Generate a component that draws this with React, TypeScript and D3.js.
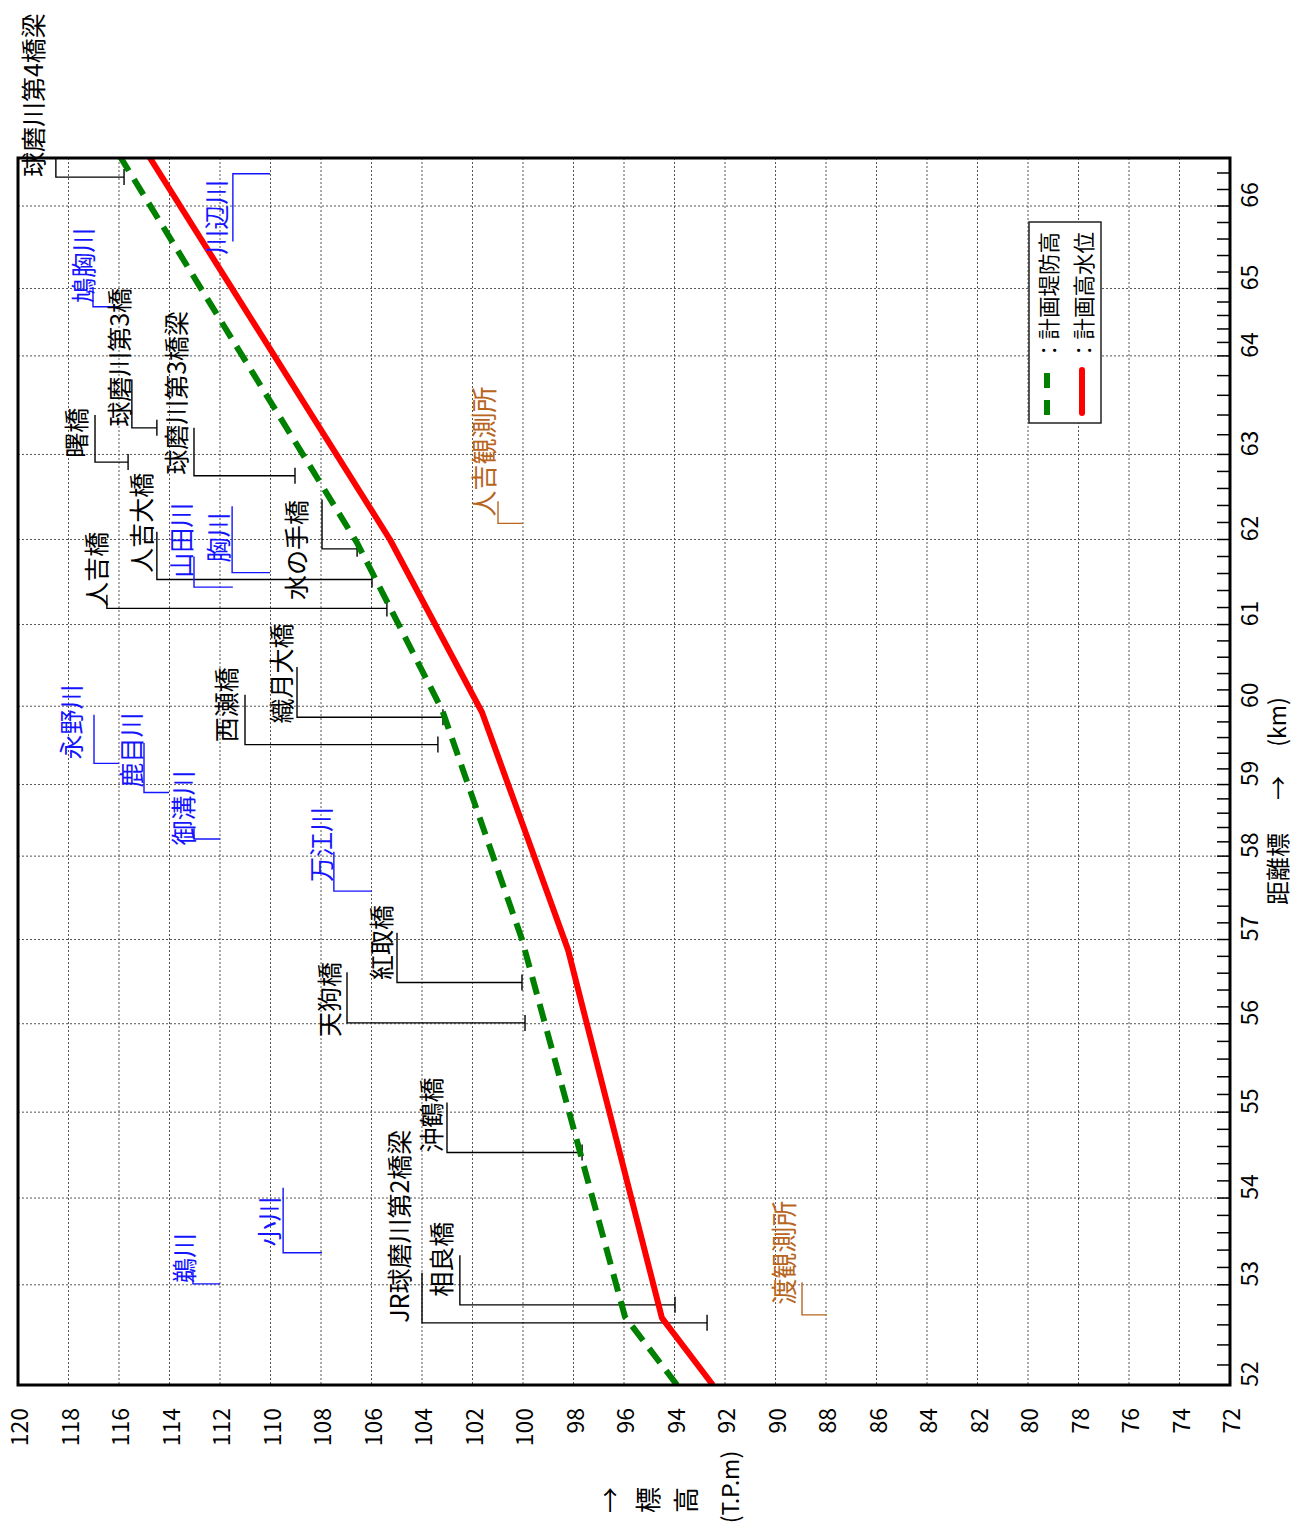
import React from 'react';
import * as d3 from 'd3';

// 距離標 (km post labels) and their distance along the river from the 52 km post
const kmLabels = [52, 53, 54, 55, 56, 57, 58, 59, 60, 61, 62, 63, 64, 65, 66];
const kmDist = [0, 1.19, 2.22, 3.24, 4.29, 5.29, 6.28, 7.13, 8.06, 9.03, 10.04, 11.05, 12.22, 13.02, 14.0];
const kmMinor = d3.range(52, 66.5, 0.2);
const kmTopDist = 14.57;

// 標高 ticks (T.P.m)
const elevTicks = [120, 118, 116, 114, 112, 110, 108, 106, 104, 102, 100, 98, 96, 94, 92, 90, 88, 86, 84, 82, 80, 78, 76, 74, 72];

// 計画堤防高
const levee = [
  { km: 52.0, elev: 93.9 },
  { km: 52.68, elev: 95.96 },
  { km: 57.0, elev: 100.04 },
  { km: 59.95, elev: 103.2 },
  { km: 61.96, elev: 106.57 },
  { km: 66.6, elev: 115.96 },
];

// 計画高水位
const hwl = [
  { km: 52.0, elev: 92.48 },
  { km: 52.67, elev: 94.5 },
  { km: 56.88, elev: 98.22 },
  { km: 59.92, elev: 101.62 },
  { km: 62.0, elev: 105.27 },
  { km: 66.6, elev: 114.81 },
];

// name, km of leader, km of other end of stem, stem elev, leader end elev, text start km, text elev
const bridges = [
  { name: '球磨川第4橋梁', km: 66.35, km2: 66.58, elev: 118.5, end: 115.8, tKm: 66.35, tElev: 119.45 },
  { name: '曙橋', km: 62.91, km2: 63.4, elev: 116.95, end: 115.64, tKm: 62.96, tElev: 117.74 },
  { name: '球磨川第3橋', km: 63.27, km2: 63.76, elev: 115.49, end: 114.5, tKm: 63.28, tElev: 116.04 },
  { name: '球磨川第3橋梁', km: 62.75, km2: 63.27, elev: 113.03, end: 109.03, tKm: 62.76, tElev: 113.78 },
  { name: '人吉大橋', km: 61.53, km2: 62.09, elev: 114.5, end: 105.98, tKm: 61.61, tElev: 115.17 },
  { name: '人吉橋', km: 61.19, km2: 61.35, elev: 116.48, end: 105.39, tKm: 61.21, tElev: 116.95 },
  { name: '水の手橋', km: 61.89, km2: 62.47, elev: 107.96, end: 106.57, tKm: 61.29, tElev: 109.03 },
  { name: '織月大橋', km: 59.86, km2: 60.48, elev: 108.95, end: 103.17, tKm: 59.78, tElev: 109.62 },
  { name: '西瀬橋', km: 59.51, km2: 60.14, elev: 111.01, end: 103.37, tKm: 59.54, tElev: 111.8 },
  { name: '紅取橋', km: 56.49, km2: 57.08, elev: 104.99, end: 100.04, tKm: 56.52, tElev: 105.66 },
  { name: '天狗橋', km: 56.01, km2: 56.61, elev: 106.97, end: 99.92, tKm: 55.85, tElev: 107.72 },
  { name: '沖鶴橋', km: 54.53, km2: 55.11, elev: 103.01, end: 97.66, tKm: 54.53, tElev: 103.68 },
  { name: '相良橋', km: 52.8, km2: 53.34, elev: 102.5, end: 93.98, tKm: 52.88, tElev: 103.29 },
  { name: 'JR球磨川第2橋梁', km: 52.62, km2: 53.14, elev: 104.0, end: 92.71, tKm: 52.62, tElev: 104.95 },
];

const tributaries = [
  { name: '川辺川', km: 66.39, km2: 65.57, elev: 111.49, end: 110.02, tKm: 65.41, tElev: 112.2 },
  { name: '鳩胸川', km: 64.73, km2: 65.01, elev: 117.03, end: 116.04, tKm: 64.79, tElev: 117.47 },
  { name: '山田川', km: 61.44, km2: 61.8, elev: 113.03, end: 111.49, tKm: 61.55, tElev: 113.58 },
  { name: '胸川', km: 61.61, km2: 62.39, elev: 111.52, end: 110.02, tKm: 61.73, tElev: 112.12 },
  { name: '永野川', km: 59.27, km2: 59.89, elev: 116.99, end: 116.0, tKm: 59.32, tElev: 117.94 },
  { name: '鹿目川', km: 58.89, km2: 59.53, elev: 115.01, end: 114.02, tKm: 58.96, tElev: 115.56 },
  { name: '御溝川', km: 58.24, km2: 58.39, elev: 113.03, end: 112.0, tKm: 58.15, tElev: 113.5 },
  { name: '万江川', km: 57.58, km2: 58.06, elev: 107.49, end: 105.98, tKm: 57.69, tElev: 108.04 },
  { name: '小川', km: 53.37, km2: 54.12, elev: 109.5, end: 107.96, tKm: 53.44, tElev: 110.1 },
  { name: '鵜川', km: 53.01, km2: 53.17, elev: 113.07, end: 112.0, tKm: 53.02, tElev: 113.47 },
];

const stations = [
  { name: '人吉観測所', km: 62.19, km2: 62.45, elev: 100.99, end: 100.0, tKm: 62.27, tElev: 101.62 },
  { name: '渡観測所', km: 52.7, km2: 53.03, elev: 88.95, end: 87.96, tKm: 52.8, tElev: 89.74 },
];

const W = 1293;
const H = 1535;
const plot = { left: 18, right: 1230, top: 158, bottom: 1385 };
const FONT = '"Noto Sans CJK JP", "Noto Sans", sans-serif';
const BLUE = '#1414ff';
const BROWN = '#b8651e';

const xE = d3.scaleLinear().domain([120, 72]).range([plot.left, plot.right]);
const yD = d3.scaleLinear().domain([0, kmTopDist]).range([plot.bottom, plot.top]);
const yK = d3.scaleLinear().domain(kmLabels).range(kmDist.map(d => yD(d)));

const VText = ({ x, y, anchor = 'start', size = 25, fill = '#000', children }: any) => (
  <text
    transform={`translate(${x},${y}) rotate(-90)`}
    textAnchor={anchor}
    dominantBaseline="central"
    fontSize={size}
    fill={fill}
  >
    {children}
  </text>
);

type Ann = { name: string; km: number; km2: number; elev: number; end: number; tKm: number; tElev: number };

const App: React.FC = () => {
  const line = d3.line<{ km: number; elev: number }>()
    .x(d => xE(d.elev))
    .y(d => yK(d.km));

  const leader = (a: Ann) => `M${xE(a.elev)},${yK(a.km2)}V${yK(a.km)}H${xE(a.end)}`;

  return (
    <svg width={W} height={H} style={{ position: 'absolute', left: 0, top: 0, fontFamily: FONT }}>
      <defs>
        <clipPath id="plotClip">
          <rect x={plot.left} y={plot.top} width={plot.right - plot.left} height={plot.bottom - plot.top} />
        </clipPath>
      </defs>
      <rect width={W} height={H} fill="#fff" />

      {/* grid */}
      <g stroke="#555" strokeWidth={1} strokeDasharray="2,2">
        {elevTicks.slice(1, -1).map(v => (
          <line key={'ge' + v} x1={xE(v)} x2={xE(v)} y1={plot.top} y2={plot.bottom} />
        ))}
        {kmLabels.slice(1).map(k => (
          <line key={'gk' + k} x1={plot.left} x2={plot.right} y1={yK(k)} y2={yK(k)} />
        ))}
      </g>

      {/* km ticks on the right axis */}
      <g stroke="#000" strokeWidth={1.5}>
        {kmMinor.map((k, i) => (
          <line key={'t' + i} x1={plot.right - 13} x2={plot.right} y1={yK(k)} y2={yK(k)} />
        ))}
      </g>

      {/* leader lines */}
      <g fill="none" strokeWidth={1.4}>
        {bridges.map(b => (
          <g key={b.name} stroke="#000">
            <path d={leader(b)} />
            <line x1={xE(b.end)} x2={xE(b.end)} y1={yK(b.km) - 8} y2={yK(b.km) + 8} />
          </g>
        ))}
        {tributaries.map(t => (
          <path key={t.name} d={leader(t)} stroke={BLUE} />
        ))}
        {stations.map(s => (
          <path key={s.name} d={leader(s)} stroke={BROWN} />
        ))}
      </g>

      {/* series */}
      <g clipPath="url(#plotClip)" fill="none">
        <path d={line(hwl) || ''} stroke="#ff0000" strokeWidth={6} strokeLinejoin="round" />
        <path d={line(levee) || ''} stroke="#008000" strokeWidth={6} strokeDasharray="18,10" />
      </g>

      {/* annotation text */}
      {bridges.map(b => (
        <VText key={'bt' + b.name} x={xE(b.tElev)} y={yK(b.tKm)}>{b.name}</VText>
      ))}
      {tributaries.map(t => (
        <VText key={'tt' + t.name} x={xE(t.tElev)} y={yK(t.tKm)} fill={BLUE}>{t.name}</VText>
      ))}
      {stations.map(s => (
        <VText key={'st' + s.name} x={xE(s.tElev)} y={yK(s.tKm)} fill={BROWN} size={26}>{s.name}</VText>
      ))}

      {/* plot frame */}
      <rect
        x={plot.left}
        y={plot.top}
        width={plot.right - plot.left}
        height={plot.bottom - plot.top}
        fill="none"
        stroke="#000"
        strokeWidth={3}
      />

      {/* legend */}
      <g>
        <rect x={1029} y={222} width={72} height={201} fill="#fff" stroke="#222" strokeWidth={1.5} />
        <line x1={1047} x2={1047} y1={415} y2={371} stroke="#008000" strokeWidth={6} strokeDasharray="15,12" />
        <line x1={1082} x2={1082} y1={413} y2={370} stroke="#ff0000" strokeWidth={6} strokeLinecap="round" />
        <VText x={1047} y={361} size={21.5}>：計画堤防高</VText>
        <VText x={1082} y={361} size={21.5}>：計画高水位</VText>
      </g>

      {/* elevation tick labels */}
      {elevTicks.map(v => (
        <VText key={'le' + v} x={xE(v)} y={plot.bottom + 23} anchor="end" size={23}>{v}</VText>
      ))}

      {/* km tick labels */}
      {kmLabels.map(k => (
        <VText key={'lk' + k} x={plot.right + 18} y={yK(k) - 11} anchor="middle" size={23}>{k}</VText>
      ))}

      {/* axis titles */}
      <VText x={608} y={1500} anchor="middle" size={26}>→</VText>
      <VText x={646} y={1500} anchor="middle" size={26}>標</VText>
      <VText x={684} y={1500} anchor="middle" size={26}>高</VText>
      <VText x={729} y={1487} anchor="middle" size={23}>(T.P.m)</VText>

      <VText x={1276} y={905} anchor="start" size={24}>距離標</VText>
      <VText x={1276} y={788} anchor="middle" size={24}>→</VText>
      <VText x={1276} y={722} anchor="middle" size={23}>(km)</VText>
    </svg>
  );
};

export default App;
